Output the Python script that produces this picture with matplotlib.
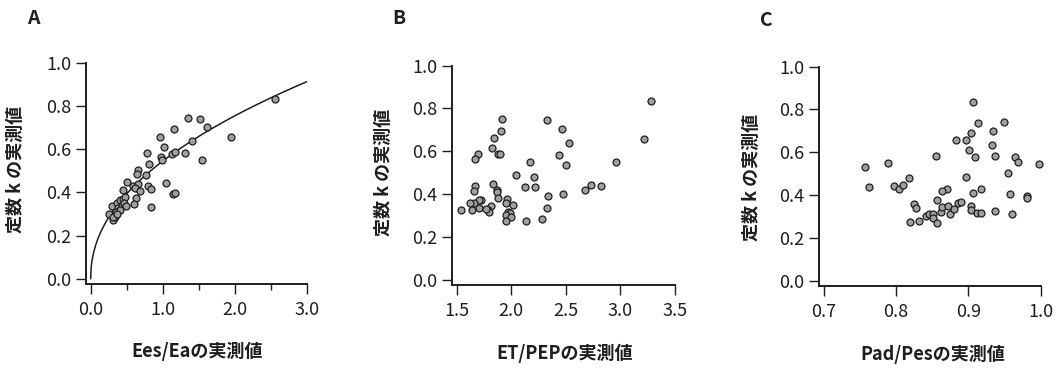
import numpy as np
import matplotlib
matplotlib.use('Agg')
import matplotlib.pyplot as plt
from matplotlib.ticker import FormatStrFormatter, MultipleLocator

plt.rcParams['font.family'] = ['Noto Sans CJK JP', 'DejaVu Sans']

# --- data ---
# A: Ees/Ea vs k
ees_ea = [1.347, 1.514, 1.615, 1.158, 1.952, 0.964, 1.403, 1.011, 0.775, 1.121,
          1.172, 1.311, 1.537, 0.978, 0.988, 0.812, 0.651, 0.641, 0.766, 0.508,
          1.043, 0.586, 0.660, 0.794, 0.840, 0.614, 0.683, 0.452, 1.135, 1.168,
          0.623, 0.595, 0.831, 0.249, 0.300, 0.314, 0.337, 0.360, 0.406, 0.443,
          0.475, 0.383, 0.429, 0.461, 0.351, 0.406, 0.305, 0.369, 0.485, 2.552]
k_a = [0.746, 0.741, 0.702, 0.693, 0.659, 0.660, 0.639, 0.611, 0.583, 0.581,
       0.586, 0.583, 0.550, 0.563, 0.553, 0.533, 0.505, 0.488, 0.479, 0.448,
       0.442, 0.431, 0.439, 0.429, 0.417, 0.422, 0.408, 0.412, 0.391, 0.397,
       0.374, 0.347, 0.332, 0.302, 0.338, 0.274, 0.287, 0.352, 0.364, 0.372,
       0.380, 0.326, 0.336, 0.349, 0.310, 0.318, 0.287, 0.299, 0.338, 0.834]

# power-law fit drawn in panel A: k = fit_a * (Ees/Ea) ** fit_b
fit_a = 0.546
fit_b = 0.47

# B: ET/PEP vs k
et_pep = [3.283, 3.216, 2.960, 2.825, 2.730, 2.673, 2.465, 2.532, 2.327, 2.434,
          2.504, 2.470, 2.334, 2.330, 2.281, 2.138, 2.172, 2.211, 2.214, 2.128,
          2.040, 1.912, 1.903, 1.839, 1.821, 1.881, 1.896, 1.692, 1.670, 1.664,
          1.655, 1.835, 1.866, 1.872, 1.880, 1.964, 1.949, 2.019, 1.973, 1.990,
          1.950, 2.000, 1.950, 1.814, 1.790, 1.800, 1.720, 1.700, 1.707, 1.660,
          1.622, 1.637, 1.542, 1.770]
k_b = [0.835, 0.659, 0.551, 0.440, 0.443, 0.418, 0.706, 0.641, 0.744, 0.583,
       0.535, 0.398, 0.392, 0.333, 0.283, 0.274, 0.552, 0.479, 0.431, 0.431,
       0.488, 0.750, 0.697, 0.663, 0.614, 0.588, 0.586, 0.588, 0.565, 0.436,
       0.415, 0.449, 0.420, 0.408, 0.383, 0.375, 0.356, 0.349, 0.314, 0.311,
       0.300, 0.292, 0.272, 0.345, 0.325, 0.316, 0.372, 0.371, 0.336, 0.358,
       0.356, 0.326, 0.325, 0.330]

# C: Pad/Pes vs k
pad_pes = [0.906, 0.913, 0.949, 0.904, 0.934, 0.883, 0.897, 0.932, 0.901, 0.909,
           0.937, 0.855, 0.964, 0.969, 0.998, 0.757, 0.789, 0.762, 0.797, 0.804,
           0.810, 0.818, 0.955, 0.897, 0.958, 0.981, 0.981, 0.918, 0.906, 0.870,
           0.864, 0.857, 0.825, 0.827, 0.819, 0.832, 0.841, 0.845, 0.851, 0.851,
           0.857, 0.862, 0.864, 0.871, 0.874, 0.880, 0.886, 0.890, 0.904, 0.903,
           0.912, 0.917, 0.937, 0.960]
k_c = [0.833, 0.738, 0.743, 0.692, 0.701, 0.659, 0.659, 0.636, 0.609, 0.580,
       0.583, 0.582, 0.580, 0.556, 0.547, 0.533, 0.550, 0.440, 0.442, 0.427,
       0.445, 0.478, 0.501, 0.486, 0.403, 0.395, 0.388, 0.430, 0.411, 0.430,
       0.417, 0.378, 0.357, 0.341, 0.274, 0.280, 0.301, 0.310, 0.313, 0.291,
       0.269, 0.323, 0.344, 0.349, 0.310, 0.336, 0.365, 0.369, 0.349, 0.331,
       0.318, 0.318, 0.327, 0.313]

ylabel = '定数 k の実測値'
yticks = [0.0, 0.2, 0.4, 0.6, 0.8, 1.0]
panels = [
    # letter, x, y, xlabel, xticks, xlim, axes box (px), ylabel pos, xlabel pos, letter pos
    ('A', ees_ea, k_a, 'Ees/Eaの実測値', [0.0, 1.0, 2.0, 3.0], (-0.065, 3.0),
     (86, 63.3, 307, 284), (15.7, 169), (197.5, 351), (33, 18.5)),
    ('B', et_pep, k_b, 'ET/PEPの実測値', [1.5, 2.0, 2.5, 3.0, 3.5], (1.454, 3.5),
     (451.7, 65.7, 675, 285), (383.5, 172.5), (565, 353), (399, 18.5)),
    ('C', pad_pes, k_c, 'Pad/Pesの実測値', [0.7, 0.8, 0.9, 1.0], (0.6935, 1.0),
     (819.3, 66.7, 1040.7, 286), (751, 177), (932.5, 354), (766.5, 20.5)),
]

W, H = 1064, 369
fig = plt.figure(figsize=(W / 100, H / 100), dpi=100)
ink = '#1e1e1e'

for letter, xs, ys, xlabel, xticks, xlim, box, ylpos, xlpos, lpos in panels:
    x0, y0, x1, y1 = box
    ax = fig.add_axes([x0 / W, 1 - y1 / H, (x1 - x0) / W, (y1 - y0) / H])
    ax.set_xlim(*xlim)
    ax.set_ylim(-0.025, 1.0)

    if letter == 'A':
        xf = np.linspace(0, 3.0, 400)
        ax.plot(xf, fit_a * xf ** fit_b, color=ink, lw=1.1, zorder=2)
        ax.xaxis.set_minor_locator(MultipleLocator(0.5))

    ax.scatter(xs, ys, s=25, facecolor='#a0a0a0', edgecolor=ink,
               linewidth=0.9, zorder=3, clip_on=False)

    for side in ('top', 'right'):
        ax.spines[side].set_visible(False)
    for side in ('left', 'bottom'):
        ax.spines[side].set_linewidth(1.4)
        ax.spines[side].set_color(ink)

    ax.set_xticks(xticks)
    ax.set_yticks(yticks)
    ax.xaxis.set_major_formatter(FormatStrFormatter('%.1f'))
    ax.yaxis.set_major_formatter(FormatStrFormatter('%.1f'))
    ax.tick_params(axis='both', which='major', direction='out', length=7.5,
                   width=1.0, color=ink, labelsize=13, labelcolor=ink)
    ax.tick_params(axis='y', which='major', pad=3)
    ax.tick_params(axis='x', which='major', pad=5)
    ax.tick_params(axis='x', which='minor', direction='out', length=4,
                   width=1.0, color=ink)

    fig.text(ylpos[0] / W, 1 - ylpos[1] / H, ylabel, rotation=90,
             ha='center', va='center', fontsize=13, fontweight='bold', color=ink)
    fig.text(xlpos[0] / W, 1 - xlpos[1] / H, xlabel,
             ha='center', va='center', fontsize=13, fontweight='bold', color=ink)
    fig.text(lpos[0] / W, 1 - lpos[1] / H, letter,
             ha='center', va='center', fontsize=14, fontweight='bold', color=ink)

fig.savefig('out.png', dpi=100, facecolor='white')
